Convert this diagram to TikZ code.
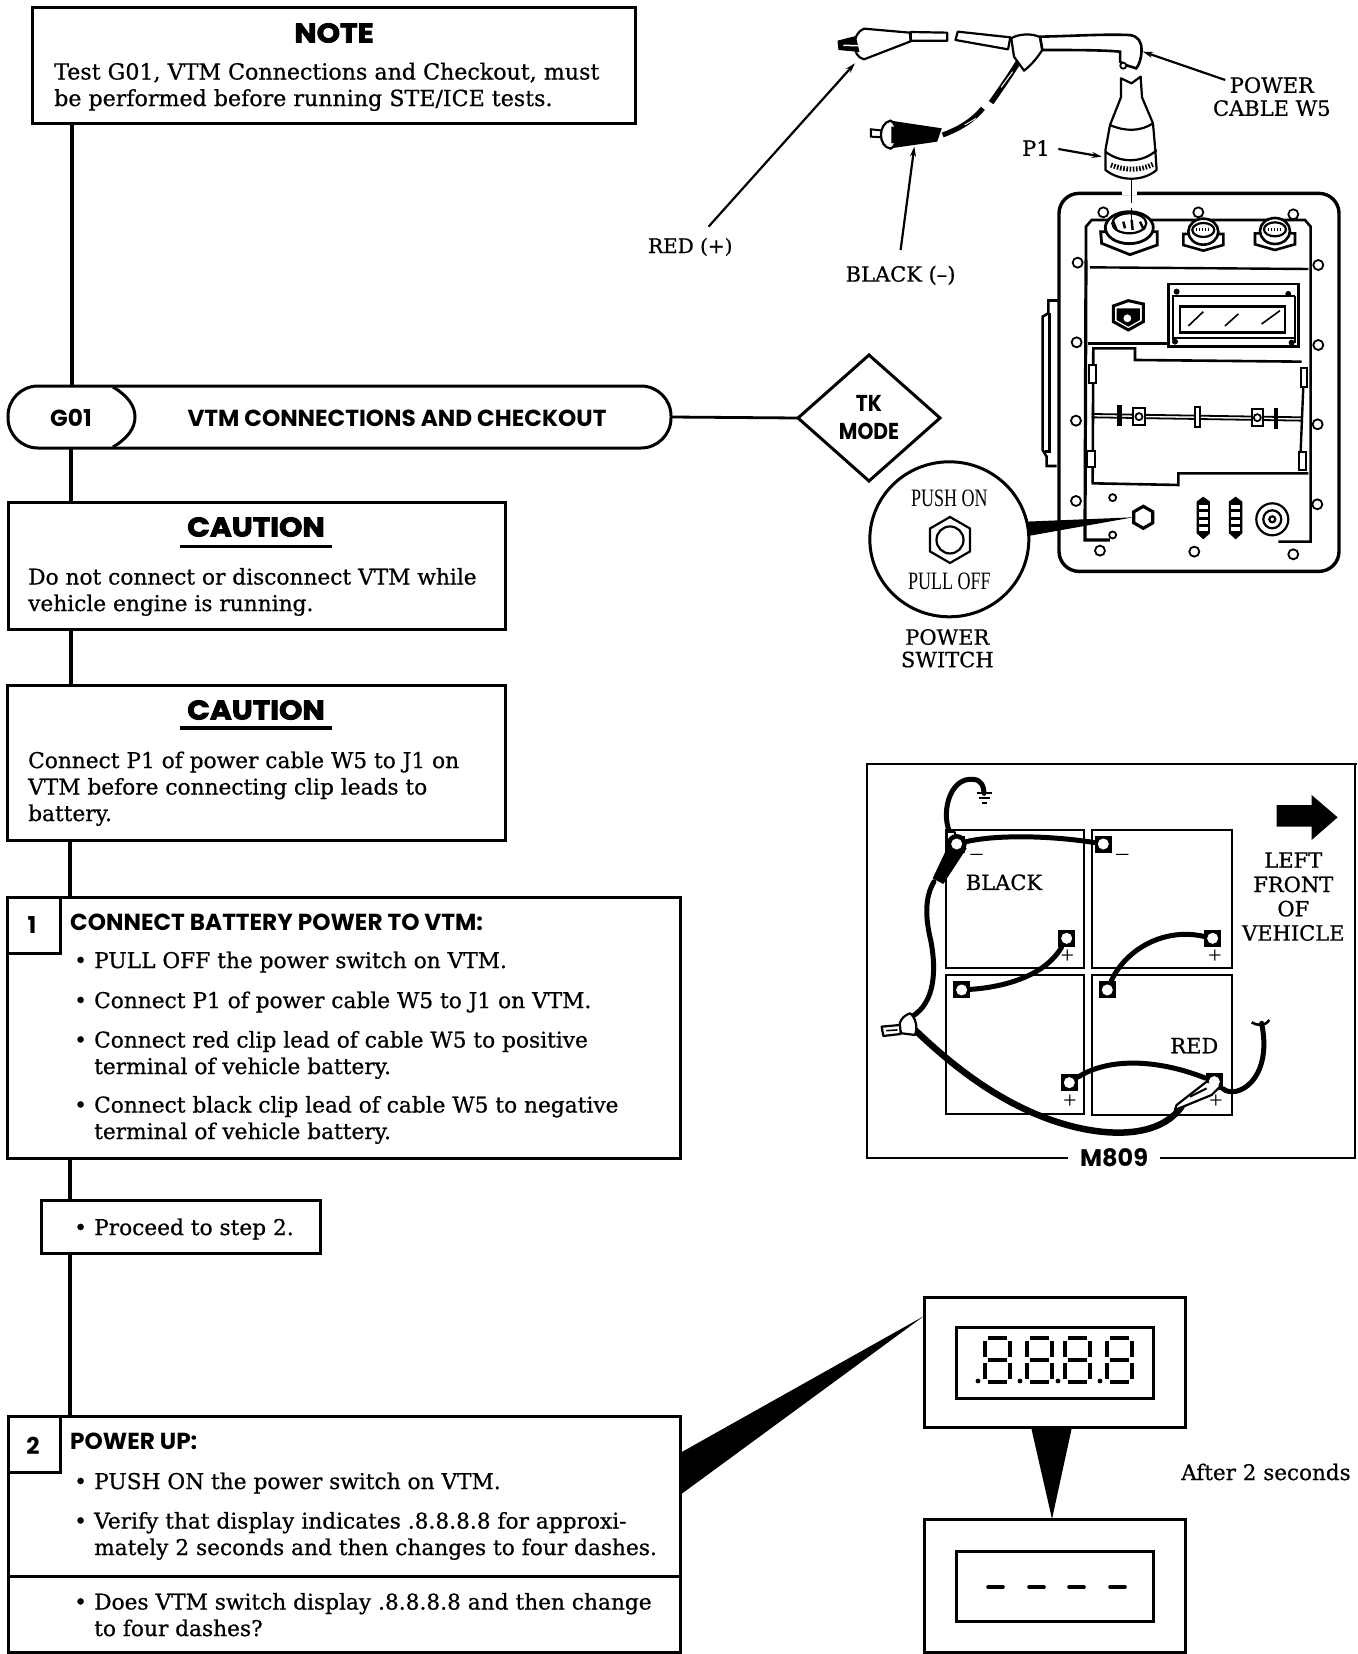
\documentclass[tikz,border=0pt]{standalone}
\usepackage{fontspec}
\usetikzlibrary{shapes.geometric,arrows.meta,calc}
\setmainfont{DejaVu Serif}
\newfontfamily\bodyf[FakeBold=0.7]{DejaVu Serif}
\newfontfamily\labf[FakeBold=0.7]{DejaVu Serif}
\newfontfamily\thinf[FakeStretch=0.72]{Liberation Serif}
\newfontfamily\sgnf{Liberation Serif}
\newfontfamily\headf{Poppins}
\newfontfamily\tkf[FakeStretch=0.88]{Poppins}
\newfontfamily\heavyf[FakeStretch=1.1,FakeBold=3]{Poppins}
\newcommand{\bodyfs}{\bodyf\fontsize{21.7}{26.5}\selectfont}
\newcommand{\labfs}{\labf\fontsize{21}{24}\selectfont}
\newcommand{\headfs}{\headf\bfseries\fontsize{23.2}{28}\selectfont}
\newcommand{\bul}{\makebox[20pt][l]{\textbullet}}
\newcommand{\bulsp}{\hspace*{20pt}}
\tikzset{
  box/.style={draw,line width=3pt,fill=white,anchor=north west,inner sep=0pt,outer sep=0pt,rectangle},
  conn/.style={line width=3.6pt},
  body/.style={font=\bodyfs,align=left,inner sep=0pt,anchor=base west},
  head/.style={font=\headfs,align=left,inner sep=0pt,anchor=base west},
  heavy/.style={font=\heavyf\bfseries\fontsize{27}{30}\selectfont,inner sep=0pt},
  lab/.style={font=\labfs,align=center,inner sep=0pt},
  thinl/.style={font=\thinf\fontsize{25}{28}\selectfont,inner sep=0pt},
  ill/.style={line width=2.2pt,line join=round},
  lead/.style={line width=2.2pt,-{Stealth[length=10pt,width=6pt]}},
  hole/.style={circle,draw,line width=1.8pt,fill=white,inner sep=0pt,minimum size=10pt},
  term/.style={rectangle,fill=black,inner sep=0pt,minimum size=17pt},
  termhole/.style={circle,fill=white,inner sep=0pt,minimum size=11pt},
  bat/.style={rectangle,draw,line width=1.8pt,anchor=north west,inner sep=0pt},
  cable/.style={line width=5pt,line cap=round},
  rcable/.style={line width=6.5pt,line cap=round},
  sgn/.style={font=\sgnf\fontsize{24}{24}\selectfont,inner sep=0pt},
  seg/.style={line width=3.2pt},
}
\newcommand{\boxn}[5]{\node[box,minimum width={(#4-#2)*1pt},minimum height={(#5-#3)*1pt}] (#1) at (#2,#3) {};}
\begin{document}
\begin{tikzpicture}[x=1pt,y=-1pt]
\useasboundingbox (0,0) rectangle (1357,1654);
\coordinate (t1) at (72,0);
\coordinate (t2) at (71,0);
\coordinate (t3) at (70,0);
% ---------- boxes
\boxn{note}{32}{8}{635}{123}
\node[box,rounded corners=30pt,minimum width=663pt,minimum height=62pt] (pill) at (8,386) {};
\boxn{cautA}{8}{502}{505}{629}
\boxn{cautB}{7}{685}{505}{840}
\boxn{stepA}{7}{897}{680}{1158}
\boxn{proc}{41}{1200}{320}{1253}
\boxn{stepB}{8}{1416}{680}{1652}
\boxn{tabA}{7}{897}{60}{953}
\boxn{tabB}{8}{1416}{60}{1472}
\node[diamond,draw,line width=3pt,shape aspect=1.127,minimum width=142pt,minimum height=126pt,inner sep=0pt,outer sep=0pt,align=center,font=\tkf\bfseries\fontsize{23}{28}\selectfont] (tk) at (869,418) {TK\\MODE};
% ---------- flow connectors
\draw[conn] (note.south -| t1) -- (pill.north -| t1);
\draw[conn] (pill.south -| t2) -- (cautA.north -| t2);
\draw[conn] (cautA.south -| t2) -- (cautB.north -| t2);
\draw[conn] (cautB.south -| t3) -- (stepA.north -| t3);
\draw[conn] (stepA.south -| t3) -- (proc.north -| t3);
\draw[conn] (proc.south -| t3) -- (stepB.north -| t3);
\draw[line width=2.8pt] (pill.east) -- (tk.west);
\coordinate (gtop) at (113,387);
\coordinate (gbot) at (113,447);
\draw[line width=3pt] (gtop) .. controls (128,396) and (135,406) .. (135,417) .. controls (135,428) and (128,438) .. (gbot);
\draw[line width=3pt] (8,1576) -- (680,1576);
% ---------- texts left
\node[heavy] (noteh) at (334,33) {NOTE};
\node[body,font=\bodyf\fontsize{22.15}{26.5}\selectfont] (notet) at (54,106) {Test G01, VTM Connections and Checkout, must\\be performed before running STE/ICE tests.};
\node[font=\headfs,inner sep=0pt] (g01) at (71,418) {G01};
\node[font=\headfs,inner sep=0pt] (vtmt) at (397,418) {VTM CONNECTIONS AND CHECKOUT};
\node[heavy] (cah) at (256,527) {CAUTION};
\draw[line width=3pt] (180,546) -- (332,546);
\node[body] (cat) at (28,611) {Do not connect or disconnect VTM while\\vehicle engine is running.};
\node[heavy] (cbh) at (256,710) {CAUTION};
\draw[line width=3.4pt] (180,728) -- (332,728);
\node[body] (cbt) at (28,821) {Connect P1 of power cable W5 to J1 on\\VTM before connecting clip leads to\\battery.};
\node[font=\headfs,inner sep=0pt] (n1) at (32,925) {1};
\node[head] (sah) at (70,930) {CONNECT BATTERY POWER TO VTM:};
\node[body] (a1) at (74,968) {\bul PULL OFF the power switch on VTM.};
\node[body] (a2) at (74,1008) {\bul Connect P1 of power cable W5 to J1 on VTM.};
\node[body] (a3) at (74,1074) {\bul Connect red clip lead of cable W5 to positive\\\bulsp terminal of vehicle battery.};
\node[body] (a4) at (74,1139) {\bul Connect black clip lead of cable W5 to negative\\\bulsp terminal of vehicle battery.};
\node[body] (pt) at (74,1235) {\bul Proceed to step 2.};
\node[font=\headfs,inner sep=0pt] (n2) at (33,1446) {2};
\node[head] (sbh) at (70,1449) {POWER UP:};
\node[body] (b1) at (74,1489) {\bul PUSH ON the power switch on VTM.};
\node[body] (b2) at (74,1555) {\bul Verify that display indicates .8.8.8.8 for approxi-\\\bulsp mately 2 seconds and then changes to four dashes.};
\node[body] (b3) at (74,1636) {\bul Does VTM switch display .8.8.8.8 and then change\\\bulsp to four dashes?};
% ---------- displays
\boxn{dispA}{924}{1297}{1185}{1427}
\boxn{winA}{956}{1327}{1153}{1398}
\boxn{dispB}{924}{1519}{1185}{1652}
\boxn{winB}{956}{1551}{1153}{1621}
\fill (680,1453) -- (924,1316) -- (680,1495) -- cycle;
\fill (1031,1427) -- (1072,1427) -- (1052,1519) -- cycle;
\foreach \dx in {985,1027,1065,1107}{
  \draw[seg] (\dx+3,1338) -- (\dx+22,1338);
  \draw[seg] (\dx+3,1360) -- (\dx+22,1360);
  \draw[seg] (\dx+3,1382) -- (\dx+22,1382);
  \draw[seg] (\dx,1341) -- (\dx,1357);
  \draw[seg] (\dx,1363) -- (\dx,1379);
  \draw[seg] (\dx+25,1341) -- (\dx+25,1357);
  \draw[seg] (\dx+25,1363) -- (\dx+25,1379);
  \fill (\dx-7,1381) circle (2.4pt);
}
\foreach \dx in {986,1027,1067,1108}{
  \draw[line width=3.6pt,line cap=round] (\dx+2,1587) -- (\dx+17,1587);
}
\node[lab,font=\bodyf\fontsize{21.5}{26}\selectfont,anchor=base west] (after) at (1181,1480) {After 2 seconds};
% ---------- M809 panel
\node[box,draw=none,fill=none,minimum width=490pt,minimum height=394pt] (mp) at (867,764) {};
\draw[line width=2.8pt] (1068,1158) -- (867,1158) -- (867,764) -- (1357,764);
\draw[line width=2.8pt] (1160,1158) -- (1355,1158) -- (1355,764);
\node[font=\headf\bfseries\fontsize{24}{26}\selectfont,inner sep=0pt] (m809) at (1114,1158) {M809};
\begin{scope}[shift={(860,760)},x=.3333pt,y=-.3333pt]
 \node[bat,minimum width=138pt,minimum height=138pt] (bTL) at (255,208) {};
 \node[bat,minimum width=140pt,minimum height=138pt] (bTR) at (693,208) {};
 \node[bat,minimum width=138pt,minimum height=139pt] (bBL) at (255,643) {};
 \node[bat,minimum width=140pt,minimum height=140pt] (bBR) at (693,643) {};
 \node[term] (A) at (290,252) {};
 \node[term] (B) at (730,252) {};
 \node[term] (C) at (620,535) {};
 \node[term] (D) at (1058,535) {};
 \node[term] (E) at (305,690) {};
 \node[term] (F) at (742,690) {};
 \node[term] (G) at (628,968) {};
 \node[term] (H) at (1063,965) {};
 \node[sgn] (m1) at (350,293) {–};
 \node[sgn] (m2) at (787,293) {–};
 \node[sgn] (p1) at (622,590) {+};
 \node[sgn] (p2) at (1065,590) {+};
 \node[sgn] (p3) at (630,1025) {+};
 \node[sgn] (p4) at (1068,1025) {+};
 \node[lab] (black) at (432,367) {BLACK};
 \node[lab] (redt) at (1003,857) {RED};
 \node[lab,font=\labf\fontsize{21}{24.3}\selectfont] (lfv) at (1300,410) {LEFT\\FRONT\\OF\\VEHICLE};
 \fill (1250,135) -- (1355,135) -- (1355,105) -- (1433,172) -- (1355,240) -- (1355,200) -- (1250,200) -- cycle;
 % cables
 \coordinate (gnd) at (372,100);
 \draw[cable] (A) .. controls (240,170) and (265,50) .. (340,58) .. controls (365,60) and (372,80) .. (gnd);
 \draw[line width=1.8pt] (350,100) -- (395,100) (356,114) -- (389,114) (365,128) -- (381,128);
 \draw[cable] (A) .. controls (400,225) and (560,225) .. (B);
 \draw[cable] (C) .. controls (560,640) and (450,680) .. (E);
 \draw[cable] (D) .. controls (900,500) and (790,580) .. (F);
 \draw[cable] (G) .. controls (750,890) and (900,900) .. (H);
 \draw[cable] (222,365) .. controls (195,410) and (195,470) .. (212,540) .. controls (230,630) and (225,730) .. (155,770);
 \draw[rcable] (165,810) .. controls (280,920) and (440,1050) .. (640,1100) .. controls (760,1130) and (900,1130) .. (965,1040);
 \draw[cable] (H) .. controls (1130,1020) and (1240,960) .. (1205,790);
 \draw[line width=2.6pt] (1175,787) .. controls (1190,797) and (1215,800) .. (1228,780);
 % clips
 \fill (275,235) -- (320,265) -- (250,372) -- (218,355) -- cycle;
 \draw[ill,fill=white] (260,215) rectangle (285,265);
 \fill (290,252) circle (10pt);
 \draw[ill,fill=white] (1040,965) -- (950,1035) -- (945,1050) -- (1055,1005) -- (1085,975) -- cycle;
 \draw[line width=2pt] (990,1010) -- (1040,985);
 \draw[ill,fill=white] (150,760) .. controls (120,770) and (110,800) .. (125,820) -- (165,825) .. controls (175,800) and (165,770) .. cycle;
 \draw[ill,fill=white] (65,800) -- (120,795) -- (122,822) -- (70,828) -- cycle;
 \draw[line width=1.6pt] (78,812) -- (112,810);
 \node[termhole] at (A) {};
 \node[termhole] at (B) {};
 \node[termhole] at (C) {};
 \node[termhole] at (D) {};
 \node[termhole] at (E) {};
 \node[termhole] at (F) {};
 \node[termhole] at (G) {};
 \node[termhole] at (H) {};
\end{scope}
% ---------- power cable illustration
\begin{scope}[shift={(640,0)},x=.4572pt,y=-.3333pt]
 \draw[ill,fill=white] (490,86) -- (590,98) -- (592,124) -- (490,178) .. controls (462,170) and (462,100) .. cycle;
 \fill (432,122) -- (472,108) -- (480,156) -- (434,150) -- cycle;
 \draw[white,line width=1.5pt] (445,136) -- (500,138);
 \draw[ill,fill=white] (592,96) -- (672,98) -- (672,122) -- (592,122) -- cycle;
 \draw[ill,fill=white] (695,95) -- (810,112) -- (805,148) -- (690,120) -- cycle;
 \draw[line width=5.5pt] (828,185) .. controls (810,225) and (790,265) .. (768,308);
 \draw[white,line width=1pt] (815,215) -- (790,262);
 \draw[line width=5pt] (750,325) .. controls (725,365) and (700,385) .. (662,405);
 \draw[white,line width=.8pt] (735,355) -- (710,375);
 \draw[ill,fill=white] (812,115) .. controls (830,100) and (860,100) .. (875,112) -- (880,150) .. controls (870,170) and (860,190) .. (840,212) -- (818,170) -- cycle;
 \draw[line width=2.6pt,fill=white] (875,110) .. controls (950,108) and (1010,102) .. (1070,105) .. controls (1090,108) and (1097,125) .. (1097,150) .. controls (1097,175) and (1090,200) .. (1085,205) -- (1062,195) -- (1050,185) -- (1050,155) .. controls (1010,150) and (950,150) .. (880,150) -- cycle;
 \node[hole,minimum size=6pt] (loop) at (1057,197) {};
 \fill (548,362) -- (660,385) -- (650,425) -- (548,445) -- cycle;
 \draw[line width=2pt,fill=white] (505,388) -- (532,392) -- (532,412) -- (505,410) -- cycle;
 \draw[line width=2.2pt,fill=white] (548,362) .. controls (520,370) and (520,440) .. (548,446) .. controls (565,440) and (565,370) .. cycle;
 \fill (550,380) -- (600,385) -- (600,425) -- (550,430) -- cycle;
 % plug P1
 \draw[ill,fill=white] (1052,235) -- (1075,250) -- (1095,230) -- (1098,292) -- (1122,370) -- (1127,450) -- (1130,510) .. controls (1100,545) and (1050,545) .. (1018,510) -- (1018,450) -- (1028,375) -- (1052,292) -- cycle;
 \draw[ill] (1028,375) .. controls (1060,395) and (1095,395) .. (1122,370);
 \draw[ill] (1018,455) .. controls (1050,490) and (1100,490) .. (1130,450);
 \draw[line width=5pt,dash pattern=on 1.6pt off 1.6pt] (1030,495) .. controls (1060,512) and (1095,512) .. (1122,493);
 \coordinate (pt1) at (1075,540);
 \coordinate (pt2) at (1075,610);
 \coordinate (pt3) at (1075,625);
 \coordinate (pt4) at (1075,680);
 % leaders
 \coordinate (l1a) at (150,680); \coordinate (l1b) at (470,190);
 \coordinate (l2a) at (570,750); \coordinate (l2b) at (600,440);
 \coordinate (l3a) at (915,447); \coordinate (l3b) at (1010,470);
 \coordinate (l4a) at (1280,240); \coordinate (l4b) at (1100,155);
 \draw[lead] (l1a) -- (l1b);
 \draw[lead] (l2a) -- (l2b);
 \draw[lead] (l3a) -- (l3b);
 \draw[lead] (l4a) -- (l4b);
 \node[lab,font=\labf\fontsize{20}{24}\selectfont] (redp) at (110,741) {RED (+)};
 \node[lab] (blackm) at (570,826) {BLACK (–)};
 \node[lab] (p1l) at (866,444) {P1};
 \node[lab,font=\labf\fontsize{21}{23}\selectfont] (pcw) at (1382,290) {POWER\\CABLE W5};
\end{scope}
% ---------- VTM
\begin{scope}[shift={(850,180)},x=.3333pt,y=-.3333pt]
 \draw[line width=3pt] (592,362) -- (625,362);
 \draw[line width=2.6pt] (595,362) -- (595,400) -- (578,410) -- (578,810) -- (590,830) -- (590,858) -- (620,858);
 \draw[line width=2.6pt] (598,400) -- (598,815) -- (585,815);
 \node[rectangle,draw,line width=3.4pt,rounded corners=20pt,anchor=north west,minimum width=280pt,minimum height=378pt,inner sep=0pt] (vtm) at (622,35) {};
 \draw[white,line width=6pt] (815,35) -- (860,35);
 \foreach \hx/\hy [count=\hi] in {760/97,1045/97,1330/103,683/248,1405/255,680/487,1405/495,678/722,1403/733,678/963,1402/973,750/1112,1033/1115,1330/1123}{
   \node[hole] (h\hi) at (\hx,\hy) {};
 }
 \node[hole,minimum size=7pt] (h15) at (788,953) {};
 \node[hole,minimum size=7pt] (h16) at (788,1065) {};
 \draw[line width=2.6pt] (708,240) -- (708,140) -- (725,120) -- (1365,120) -- (1382,140) -- (1382,1085) -- (1285,1085);
 \draw[line width=3.2pt] (708,240) -- (705,1080) -- (780,1080);
 \draw[line width=2.4pt] (720,262) -- (1375,267);
 \draw[line width=2.4pt] (715,490) -- (950,490);
 \draw[line width=2.6pt,fill=white] (955,312) rectangle (1345,500);
 \draw[line width=2.2pt] (965,348) -- (1335,348) (968,348) -- (968,480) (1335,348) -- (1335,490) (968,475) -- (1335,475);
 \draw[line width=2.4pt,fill=white] (990,380) rectangle (1305,458);
 \draw[line width=1.6pt] (1015,438) -- (1060,395) (1125,438) -- (1165,402) (1235,432) -- (1290,392);
 \fill (980,335) circle (3pt) (1315,342) circle (3pt) (975,485) circle (3pt) (1325,488) circle (3pt);
 \draw[line width=3pt] (790,378) -- (835,362) -- (880,372) -- (880,425) -- (835,450) -- (790,425) -- cycle;
 \fill (800,385) -- (870,385) -- (870,420) -- (835,440) -- (800,420) -- cycle;
 \node[hole,minimum size=10pt] (tgl) at (832,415) {};
 % battery compartment
 \draw[line width=2.6pt] (728,910) -- (730,505) -- (855,505) -- (855,540) -- (1355,545);
 \draw[line width=2.6pt] (725,910) -- (985,915) -- (985,880) -- (1375,880);
 \draw[line width=2.4pt] (1360,620) -- (1352,815);
 \draw[line width=2.2pt,fill=white] (718,555) rectangle (738,610);
 \draw[line width=2.2pt,fill=white] (712,812) rectangle (735,860);
 \draw[line width=2.2pt,fill=white] (1352,563) rectangle (1370,620);
 \draw[line width=2.2pt,fill=white] (1348,815) rectangle (1368,870);
 \draw[line width=1.8pt] (725,702) -- (1355,712) (725,712) -- (1355,722);
 \fill (802,675) rectangle (816,738);
 \fill (1271,685) rectangle (1285,748);
 \draw[line width=1.8pt,fill=white] (1036,680) rectangle (1050,742);
 \draw[line width=2.2pt,fill=white] (850,685) rectangle (885,735);
 \draw[line width=2.2pt,fill=white] (1205,688) rectangle (1240,738);
 \node[hole,minimum size=7pt] (b1h) at (867,710) {};
 \node[hole,minimum size=7pt] (b2h) at (1222,713) {};
 % connectors J1-J3
 \draw[line width=2.8pt,fill=white] (752,155) -- (755,190) -- (840,224) -- (922,195) -- (922,155) -- cycle;
 \draw[line width=2.8pt,fill=white] (838,143) ellipse (24pt and 16pt);
 \draw[line width=2.2pt,fill=white] (838,130) ellipse (17pt and 10pt);
 \draw[line width=2.4pt] (790,125) -- (800,150) (870,125) -- (882,150) (820,125) -- (825,145) (845,120) -- (848,150);
 \foreach \cx/\cy in {1060/150,1275/148}{
   \draw[line width=2.6pt,fill=white] (\cx-60,\cy+12) -- (\cx-60,\cy+45) -- (\cx,\cy+62) -- (\cx+60,\cy+45) -- (\cx+60,\cy+12) -- cycle;
   \draw[line width=2.6pt,fill=white] (\cx,\cy+5) ellipse (15pt and 13pt);
   \draw[line width=2.2pt,fill=white] (\cx,\cy) ellipse (11pt and 7pt);
   \draw[line width=3pt,dash pattern=on 1.5pt off 1.5pt] (\cx-22,\cy) -- (\cx+22,\cy);
 }
 % lower panel
 \foreach \sx in {1060,1157}{
  \fill (\sx-20,965) -- (\sx,950) -- (\sx+20,965) -- (\sx+20,1060) -- (\sx,1078) -- (\sx-20,1060) -- cycle;
  \foreach \sy in {975,997,1019,1041}{
    \fill[white] (\sx-13,\sy) rectangle (\sx+13,\sy+13);
  }
 }
 \draw[line width=2.2pt] (1267,1018) circle (16pt) (1267,1018) circle (9pt) (1267,1018) circle (3pt);
 % callout
 \fill (530,1025) -- (850,1012) -- (535,1068) -- cycle;
 \node[regular polygon,regular polygon sides=6,shape border rotate=30,draw,line width=3.2pt,fill=white,inner sep=0pt,minimum size=22pt] (sw) at (880,1012) {};
 \node[ellipse,draw,line width=3pt,fill=white,minimum width=159pt,minimum height=155pt,inner sep=0pt] (call) at (298,1078) {};
 \node[regular polygon,regular polygon sides=6,shape border rotate=30,draw,line width=2.2pt,inner sep=0pt,minimum size=46pt] (hexa) at (300,1080) {};
 \node[circle,draw,line width=2.2pt,inner sep=0pt,minimum size=27pt] (hexb) at (300,1080) {};
 \node[thinl] (pon) at (298,955) {PUSH ON};
 \node[thinl] (pof) at (298,1205) {PULL OFF};
 \node[lab,font=\labf\fontsize{21}{22.5}\selectfont] (psw) at (292,1405) {POWER\\SWITCH};
\end{scope}
% dashed plug line, across scopes
\draw[line width=1.8pt] (pt1) -- (pt2);
\draw[line width=1.8pt] (pt3) -- (pt4);
\end{tikzpicture}
\end{document}
